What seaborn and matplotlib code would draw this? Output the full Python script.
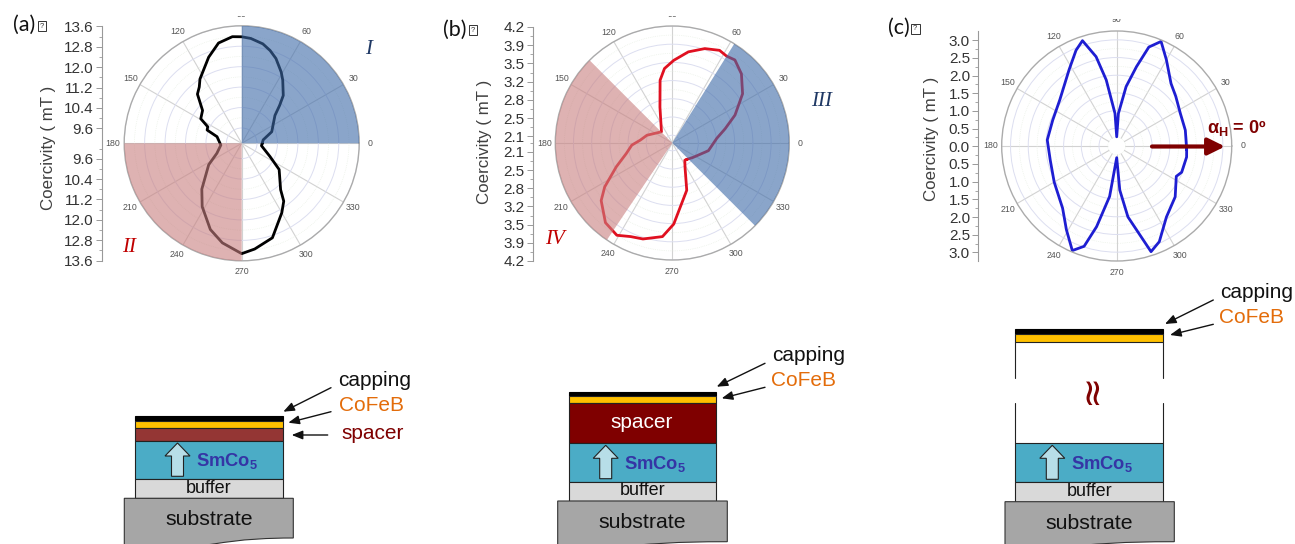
import numpy as np
import seaborn as sns
import matplotlib.pyplot as plt
import matplotlib.patches as mpatches
from matplotlib.path import Path

# angle (deg) / coercivity (mT)
angle_a = [-1, 9, 21, 40, 45, 49, 57, 61, 68, 73, 78, 85, 90, 95, 103, 111, 123, 127, 132, 140, 149, 154, 159, 165, 185,
           202, 213, 229, 238, 250, 259, 270, 277, 288, 300, 306, 310, 325, 335, 353, 359]
hc_a = [9.80, 9.85, 10.26, 10.70, 11.10, 11.48, 11.95, 12.19, 12.58, 12.80, 12.98, 13.12, 13.17, 13.19, 13.03, 12.61,
        12.00, 11.76, 11.59, 11.00, 10.87, 10.48, 10.45, 10.00, 9.82, 10.05, 10.54, 11.38, 11.92, 12.59, 12.97, 13.32,
        13.17, 12.89, 12.14, 11.80, 11.37, 10.79, 10.22, 9.78, 9.80]

angle_b = [311, 326, 348, 366, 375, 384, 395, 405, 413, 418, 423, 431, 440, 449, 456, 461, 469, 494, 523, 535,
           543, 553, 563, 573, 579, 590, 599, 606, 613, 624, 631, 647, 658, 666, 671]
hc_b = [2.37, 2.44, 2.66, 2.81, 3.00, 3.27, 3.60, 3.83, 3.95, 3.92, 3.95, 3.87, 3.73, 3.54, 3.39, 3.18, 2.68,
        2.25, 2.46, 2.57, 2.73, 2.86, 3.12, 3.50, 3.71, 3.95, 4.02, 3.92, 3.88, 3.76, 3.51, 2.90, 2.47, 2.36, 2.37]

angle_c = [-3, 13, 27, 40, 49, 60, 67, 72, 76, 81, 87, 90, 93, 99, 103, 108, 113, 122, 141, 158, 175, 192, 210,
           229, 239, 247, 252, 256, 262, 270, 274, 279, 288, 294, 305, 319, 333, 338, 351, 357]
hc_c = [1.98, 1.99, 2.02, 2.18, 2.34, 2.81, 3.21, 2.94, 2.31, 1.70, 0.92, 0.26, 0.92, 1.89, 2.59, 3.13, 2.94,
        2.54, 2.07, 1.95, 1.97, 1.92, 2.04, 2.33, 2.76, 3.21, 2.98, 2.35, 1.44, 0.33, 1.25, 2.03, 3.14, 2.96,
        2.45, 2.19, 1.89, 1.98, 2.00, 1.98]

ticks_a = [9.6, 10.4, 11.2, 12.0, 12.8, 13.6]
labels_a = ['9.6', '10.4', '11.2', '12.0', '12.8', '13.6']
ticks_b = [2.1, 2.45, 2.8, 3.15, 3.5, 3.85, 4.2]
labels_b = ['2.1', '2.5', '2.8', '3.2', '3.5', '3.9', '4.2']
ticks_c = [0.0, 0.5, 1.0, 1.5, 2.0, 2.5, 3.0]
labels_c = ['0.0', '0.5', '1.0', '1.5', '2.0', '2.5', '3.0']

theta_ticks = [0, 30, 60, 90, 120, 150, 180, 210, 240, 270, 300, 330]

BLUE = '#3D6AA8'
PINK = '#C87F7F'

W, H = 1295, 544

sns.set_theme(style='white')
plt.rcParams['font.family'] = ['Liberation Sans', 'DejaVu Sans']
plt.rcParams['mathtext.fontset'] = 'custom'
plt.rcParams['mathtext.rm'] = 'Liberation Sans'
plt.rcParams['mathtext.bf'] = 'Liberation Sans:bold'

fig = plt.figure(figsize=(W / 100, H / 100), dpi=100)


def polar_panel(cx, cy, R, angle, hc, color, rmin, rmax, ticks, wedges):
    ax = fig.add_axes([(cx - R) / W, 1 - (cy + R) / H, 2 * R / W, 2 * R / H], projection='polar')
    ax.set_facecolor('none')
    sns.lineplot(x=np.deg2rad(angle), y=hc, ax=ax, color=color, lw=2.0, sort=False, estimator=None, zorder=2,
                 solid_joinstyle='round')
    for start, end, col in wedges:
        ax.bar(np.deg2rad((start + end) / 2), rmax - rmin, width=np.deg2rad(end - start), bottom=rmin,
               color=col, alpha=0.6, lw=0, zorder=3)
    ax.set_xlim(0, 2 * np.pi)
    ax.set_thetagrids(theta_ticks, [str(t) for t in theta_ticks], fontsize=6.3, color='#555555')
    ax.tick_params(axis='x', pad=-5)
    ax.set_yticks(ticks)
    ax.set_yticklabels([])
    minor = [(a + b) / 2 for a, b in zip(ticks[:-1], ticks[1:])]
    ax.set_yticks(minor, minor=True)
    ax.grid(True, axis='x', color='#D2D2D2', lw=0.8)
    ax.grid(True, axis='y', which='major', color='#DCDEF0', lw=0.7)
    ax.grid(True, axis='y', which='minor', color='#E6EEE2', lw=0.5, ls=':')
    ax.tick_params(axis='y', which='both', length=0)
    ax.spines['polar'].set_color('#ABABAB')
    ax.spines['polar'].set_linewidth(1.0)
    ax.set_ylim(rmin, rmax)
    ax.set_xlabel('')
    ax.set_ylabel('')
    return ax


def side_axis(x, cy, half, span, ticks, labels, offset):
    ax = fig.add_axes([x / W, 1 - (cy + half) / H, 0.001, 2 * half / H])
    ax.set_facecolor('none')
    ax.set_ylim(-span, span)
    ax.set_xticks([])
    pos = sorted(set([t - offset for t in ticks] + [-(t - offset) for t in ticks]))
    lab = {}
    for t, l in zip(ticks, labels):
        lab[round(t - offset, 3)] = l
        lab[round(offset - t, 3)] = l
    ax.set_yticks(pos)
    ax.set_yticklabels([lab[round(p, 3)] for p in pos], fontsize=11, color='#333333')
    step = ticks[1] - ticks[0]
    minor = [p + step / 2 for p in pos if p + step / 2 < span and abs(p + step / 2) > 1e-6]
    ax.set_yticks(minor, minor=True)
    ax.tick_params(axis='y', which='major', length=4, width=0.7, color='#999999', pad=2, left=True)
    ax.tick_params(axis='y', which='minor', length=2, width=0.6, color='#999999', left=True)
    for s in ['top', 'right', 'bottom']:
        ax.spines[s].set_visible(False)
    ax.spines['left'].set_color('#999999')
    ax.spines['left'].set_linewidth(0.8)
    return ax


polar_panel(241.7, 143.3, 117.5, angle_a, hc_a, '#000000', 9.0, 13.6, ticks_a,
            [(0, 90, BLUE), (180, 270, PINK)])
polar_panel(672.3, 143.0, 117.0, angle_b, hc_b, '#E01020', 1.95, 4.2, ticks_b,
            [(-45, 58, BLUE), (135, 236, PINK)])
ax_c = polar_panel(1116.7, 146.0, 115.0, angle_c, hc_c, '#1E1ED2', 0.0, 3.25, ticks_c, [])
ax_c.bar(0, 0.24, width=2 * np.pi, bottom=0, color='white', lw=0, zorder=1.5)

side_axis(101.7, 143.5, 117, 4.6, ticks_a, labels_a, 9.0)
side_axis(532.7, 144.0, 117, 2.25, ticks_b, labels_b, 1.95)
side_axis(978.3, 146.3, 115, 3.25, ticks_c, labels_c, 0.0)

# everything else goes on a pixel overlay
ov = fig.add_axes([0, 0, 1, 1], zorder=10)
ov.set_xlim(0, W)
ov.set_ylim(H, 0)
ov.axis('off')
ov.patch.set_alpha(0)

# top of the 90 labels is cut off in the source
for x0, y1 in [(226, 15.8), (657, 15.8), (1100, 18.8)]:
    ov.add_patch(mpatches.Rectangle((x0, 4), 32, y1 - 4, fc='white', ec='none'))

for x, y, s in [(48, 148, 'Coercivity ( mT )'), (484, 142, 'Coercivity ( mT )'), (931.7, 139, 'Coercivity ( mT )')]:
    ov.text(x, y, s, rotation=90, fontsize=12.2, color='#404040', ha='center', va='center')

for x, y, s, bx, by in [(12.7, 25, '(a)', 37.5, 21), (442.7, 30, '(b)', 468.5, 25), (888.3, 28, '(c)', 911, 24)]:
    ov.text(x, y, s, fontsize=15.5, family='Lato', color='#111111', ha='left', va='center')
    ov.add_patch(mpatches.Rectangle((bx, by), 8.5, 10, fc='white', ec='#333333', lw=0.7))
    ov.text(bx + 4.25, by + 5, '?', fontsize=5.5, color='#333333', ha='center', va='center')

for x, y, s, c in [(369, 50, 'I', '#1F3864'), (129, 248, 'II', '#C00000'),
                   (821.7, 101.7, 'III', '#1F3864'), (555, 239.3, 'IV', '#C00000')]:
    ov.text(x, y, s, fontsize=15, family='Liberation Serif', style='italic', color=c, ha='center', va='center')

# field direction arrow in (c)
ov.annotate('', xy=(1225, 146.5), xytext=(1152, 146.5),
            arrowprops=dict(arrowstyle='-|>,head_width=0.42,head_length=0.85', color='#7F0000', lw=3, shrinkA=0, shrinkB=0))
ov.text(1237, 127.5, 'α$_{\\mathbf{H}}$ = 0º', fontsize=13, weight='bold', color='#7F0000', ha='center', va='center')


def layer(x0, x1, y0, y1, color, edge='#222222'):
    ov.add_patch(mpatches.Rectangle((x0, y0), x1 - x0, y1 - y0, fc=color, ec=edge, lw=0.8))


def substrate(x0, x1, y0, yr, ybot):
    xm = (x0 + x1) / 2
    verts = [(x0, ybot), (x0, y0), (x1, y0), (x1, yr), (xm + 30, yr), (xm + 10, ybot - 1), (xm - 4, ybot), (x0, ybot)]
    codes = [Path.MOVETO, Path.LINETO, Path.LINETO, Path.LINETO, Path.CURVE4, Path.CURVE4, Path.CURVE4, Path.LINETO]
    ov.add_patch(mpatches.PathPatch(Path(verts, codes), fc='#A6A6A6', ec='#333333', lw=0.8, clip_on=False))
    ov.text(xm, y0 + 21.5, 'substrate', fontsize=15.3, color='#111111', ha='center', va='center')


def bottom_stack(x0, x1, top, mid, bot, sub_x0, sub_x1, sub_r, arrow_dx, label_dx):
    layer(x0, x1, top, mid, '#4BACC6')
    layer(x0, x1, mid, bot, '#D9D9D9')
    substrate(sub_x0, sub_x1, bot, sub_r, 545)
    ov.text((x0 + x1) / 2, (mid + bot) / 2 - 0.5, 'buffer', fontsize=13, color='#111111', ha='center', va='center')
    ov.add_patch(mpatches.FancyArrow(x0 + arrow_dx, mid - 3, 0, -(mid - top - 5), width=12, head_width=25, head_length=13,
                                     length_includes_head=True, fc='#B7DEE8', ec='#222222', lw=0.8))
    ov.text(x0 + label_dx, (top + mid) / 2 + 1, r'$\mathbf{SmCo_{5}}$', fontsize=13.2, color='#3535A5', ha='left', va='center')


def pointer(x0, y0, x1, y1):
    ov.annotate('', xy=(x1, y1), xytext=(x0, y0),
                arrowprops=dict(arrowstyle='-|>,head_width=0.22,head_length=0.55', color='#111111', lw=1, shrinkA=0, shrinkB=0))


ORANGE = '#E36C0A'

# stack (a)
layer(135, 282.7, 416, 420.7, '#000000', '#000000')
layer(135, 282.7, 420.7, 428.3, '#FFC000')
layer(135, 282.7, 428.3, 441, '#943634')
bottom_stack(135, 282.7, 441, 479.3, 498.3, 124.3, 293.3, 538, 42.5, 61)
ov.text(375, 380, 'capping', fontsize=15, color='#111111', ha='center', va='center')
ov.text(371, 405.7, 'CoFeB', fontsize=15, color=ORANGE, ha='center', va='center')
ov.text(372.7, 433.3, 'spacer', fontsize=15, color='#7F0000', ha='center', va='center')
pointer(331, 387.7, 283.3, 411.7)
pointer(331, 411.7, 288.3, 422.7)
pointer(327.7, 435, 291.7, 435)

# stack (b)
layer(568.7, 716, 391.7, 396, '#000000', '#000000')
layer(568.7, 716, 396, 403.3, '#FFC000')
layer(568.7, 716, 403.3, 443.3, '#7F0000')
bottom_stack(568.7, 716, 443.3, 481.7, 501, 557.7, 727.3, 541.7, 37, 55.6)
ov.text(641.7, 422.3, 'spacer', fontsize=15, color='white', ha='center', va='center')
ov.text(808.3, 355.7, 'capping', fontsize=15, color='#111111', ha='center', va='center')
ov.text(804, 380.7, 'CoFeB', fontsize=15, color=ORANGE, ha='center', va='center')
pointer(765, 363.3, 716.7, 386.7)
pointer(765, 387.3, 721.7, 398.3)

# stack (c), broken side walls
layer(1015.3, 1163.3, 329.3, 334.3, '#000000', '#000000')
layer(1015.3, 1163.3, 334.3, 341.7, '#FFC000')
for x in [1015.3, 1163.3]:
    ov.plot([x, x], [341.7, 377.7], color='#222222', lw=0.8)
    ov.plot([x, x], [403.3, 443.3], color='#222222', lw=0.8)
bottom_stack(1015.3, 1163.3, 443.3, 482.3, 501.7, 1005, 1174.3, 541.7, 37, 55.7)
ov.text(1092, 389, '≈', fontsize=27, family='DejaVu Sans', rotation=90, color='#7F0000', ha='center', va='center')
ov.text(1256.7, 292.3, 'capping', fontsize=15, color='#111111', ha='center', va='center')
ov.text(1252, 317.3, 'CoFeB', fontsize=15, color=ORANGE, ha='center', va='center')
pointer(1213.3, 300, 1165, 324)
pointer(1213.3, 324.3, 1170, 335)

fig.savefig('out.png', dpi=100)
